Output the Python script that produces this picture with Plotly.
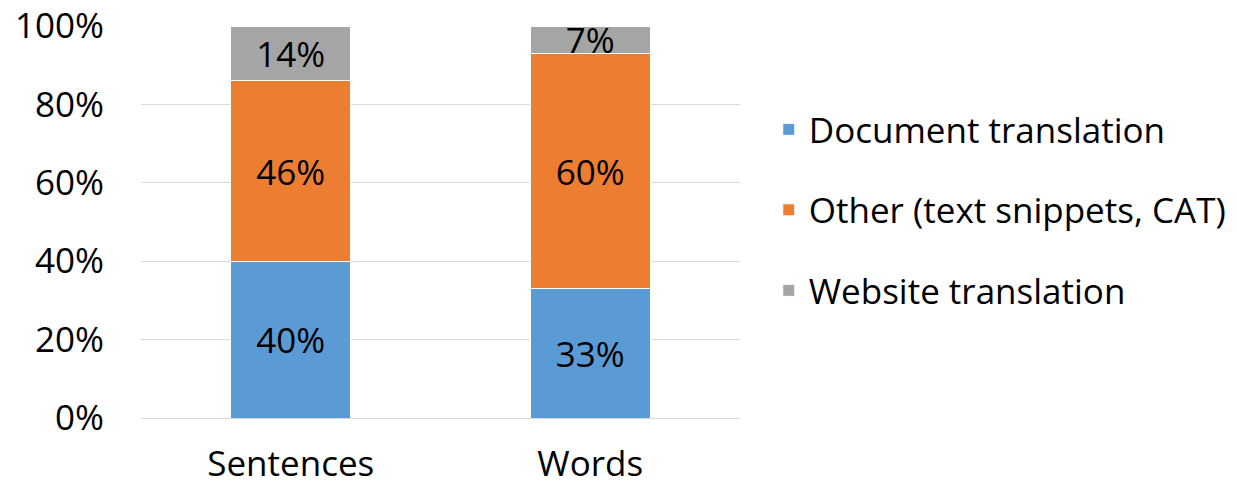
import plotly.graph_objects as go

categories = ["Sentences", "Words"]
series_names = ["Document translation", "Other (text snippets, CAT)", "Website translation"]
document_vals = [40, 33]
other_vals = [46, 60]
website_vals = [14, 7]
colors = ["#5B9BD5", "#ED7D31", "#A5A5A5"]

FS = 35
fig = go.Figure()
for i, (name, vals) in enumerate(zip(series_names, [document_vals, other_vals, website_vals])):
    fig.add_trace(go.Bar(
        x=categories, y=vals, name=name,
        marker=dict(color=colors[i], line=dict(color="white", width=1)),
        text=[f"{v}%" for v in vals],
        textposition="inside", insidetextanchor="middle",
        textfont=dict(size=FS, color="black"),
        legendgroup=f"g{i}",
    ))

fig.update_layout(
    barmode="stack",
    bargap=0.6,
    width=1237, height=490,
    margin=dict(l=141, r=497, t=26, b=72, autoexpand=False),
    paper_bgcolor="white", plot_bgcolor="white",
    font=dict(family="Open Sans", size=FS, color="black"),
    uniformtext=dict(minsize=FS, mode="show"),
    showlegend=True,
    legend=dict(x=1.048, xanchor="left", y=0.811, yanchor="top",
                traceorder="grouped", tracegroupgap=32,
                font=dict(size=FS, color="black")),
    yaxis=dict(range=[0, 100], dtick=20, ticksuffix="%",
               gridcolor="#D9D9D9", gridwidth=1, zeroline=False,
               showline=False, ticks="", tickfont=dict(size=FS),
               ticklabelstandoff=36, automargin=False),
    xaxis=dict(showline=True, linecolor="#D9D9D9", linewidth=1,
               ticks="", tickfont=dict(size=FS), ticklabelstandoff=15,
               automargin=False),
)
fig.write_html("out.html", config={"displayModeBar": False},
               post_script="document.body.style.margin='0px';")
